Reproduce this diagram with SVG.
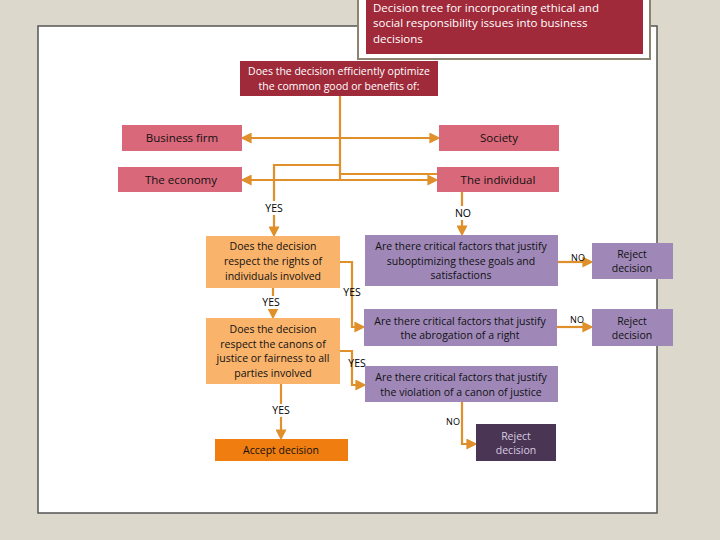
<svg xmlns="http://www.w3.org/2000/svg" width="720" height="540" viewBox="0 0 720 540">
<style>
text{font-family:"Open Sans","Liberation Sans",sans-serif;font-size:10.5px;text-anchor:middle}
.w{fill:#fff}.k{fill:#111}
.ln{fill:none;stroke:#e0902a;stroke-width:2.2}
</style>
<defs><marker id="a" markerWidth="5" markerHeight="5" refX="3" refY="2.5" orient="auto"><path d="M0,0L5,2.5L0,5z" fill="#e0902a"/></marker></defs>
<rect width="720" height="540" fill="#dcd8cc"/>
<rect x="38" y="26" width="619" height="487" fill="#fff" stroke="#555" stroke-width="1.5"/>
<g id="title"><rect x="358" y="-5" width="292" height="64" fill="#fff" stroke="#8a8470" stroke-width="2"/><rect x="366" y="-5" width="277" height="59" fill="#a02a3a"/>
<text x="373" y="12" class="w" style="text-anchor:start;font-size:11.5px">Decision tree for incorporating ethical and</text>
<text x="373" y="27" class="w" style="text-anchor:start;font-size:11.5px">social responsibility issues into business</text>
<text x="373" y="43" class="w" style="text-anchor:start;font-size:11.5px">decisions</text></g>
<g id="connectors">
<path class="ln" d="M340,96V180"/>
<path class="ln" d="M340,138H245" marker-end="url(#a)"/><path class="ln" d="M340,138H436" marker-end="url(#a)"/>
<path class="ln" d="M340,180H245" marker-end="url(#a)"/><path class="ln" d="M340,180H434" marker-end="url(#a)"/>
<path class="ln" d="M340,165H274V233" marker-end="url(#a)"/>
<path class="ln" d="M340,174H462V232" marker-end="url(#a)"/>
<path class="ln" d="M340,262H352V327H361" marker-end="url(#a)"/>
<path class="ln" d="M340,351H352V385H362" marker-end="url(#a)"/>
<path class="ln" d="M273,288V315" marker-end="url(#a)"/>
<path class="ln" d="M281,384V436" marker-end="url(#a)"/>
<path class="ln" d="M462,402V444H473" marker-end="url(#a)"/>
<path class="ln" d="M558,262H589" marker-end="url(#a)"/>
<path class="ln" d="M557,327H589" marker-end="url(#a)"/>
</g>
<g id="labels">
<rect x="262" y="201" width="24" height="14" fill="#fff"/><text x="274" y="212">YES</text>
<rect x="452" y="206" width="20" height="14" fill="#fff"/><text x="463" y="217">NO</text>
<rect x="258" y="296" width="26" height="13" fill="#fff"/><text x="271" y="306">YES</text>
<text x="352" y="296">YES</text><text x="357" y="367">YES</text>
<rect x="268" y="404" width="26" height="13" fill="#fff"/><text x="281" y="414">YES</text>
<text x="453" y="425" style="font-size:9px">NO</text>
<text x="578" y="261" style="font-size:9px">NO</text><text x="577" y="323" style="font-size:9px">NO</text>
</g>
<g id="q0"><rect x="240" y="61" width="198" height="35" fill="#9e2a3a"/><text x="339" y="75" class="w">Does the decision efficiently optimize</text><text x="339" y="90" class="w">the common good or benefits of:</text></g>
<g id="firm"><rect x="122" y="125" width="120" height="26" fill="#d9687a"/><text x="182" y="142" class="k" style="font-size:11.5px">Business firm</text></g>
<g id="society"><rect x="439" y="125" width="120" height="26" fill="#d9687a"/><text x="499" y="142" class="k" style="font-size:11.5px">Society</text></g>
<g id="economy"><rect x="118" y="167" width="124" height="25" fill="#d9687a"/><text x="181" y="184" class="k" style="font-size:11.5px">The economy</text></g>
<g id="individual"><rect x="437" y="167" width="122" height="25" fill="#d9687a"/><text x="498" y="184" class="k" style="font-size:11.5px">The individual</text></g>
<g id="rights"><rect x="206" y="236" width="134" height="52" fill="#f9b36b"/><text x="273" y="250" class="k">Does the decision</text><text x="273" y="265" class="k">respect the rights of</text><text x="273" y="280" class="k">individuals involved</text></g>
<g id="justice"><rect x="206" y="318" width="134" height="66" fill="#f9b36b"/><text x="273" y="333" class="k">Does the decision</text><text x="273" y="348" class="k">respect the canons of</text><text x="273" y="362" class="k">justice or fairness to all</text><text x="273" y="377" class="k">parties involved</text></g>
<g id="accept"><rect x="215" y="439" width="133" height="22" fill="#ef7d10"/><text x="281" y="454" class="k">Accept decision</text></g>
<g id="p1"><rect x="365" y="235" width="193" height="51" fill="#9f88b8"/><text x="461" y="250" class="k">Are there critical factors that justify</text><text x="461" y="265" class="k">suboptimizing these goals and</text><text x="461" y="279" class="k">satisfactions</text></g>
<g id="p2"><rect x="364" y="309" width="193" height="37" fill="#9f88b8"/><text x="460" y="325" class="k">Are there critical factors that justify</text><text x="460" y="339" class="k">the abrogation of a right</text></g>
<g id="p3"><rect x="365" y="366" width="193" height="36" fill="#9f88b8"/><text x="461" y="381" class="k">Are there critical factors that justify</text><text x="461" y="396" class="k">the violation of a canon of justice</text></g>
<g id="r1"><rect x="592" y="243" width="81" height="36" fill="#9f88b8"/><text x="632" y="258" class="k">Reject</text><text x="632" y="272" class="k">decision</text></g>
<g id="r2"><rect x="592" y="309" width="81" height="37" fill="#9f88b8"/><text x="632" y="325" class="k">Reject</text><text x="632" y="339" class="k">decision</text></g>
<g id="r3"><rect x="476" y="424" width="80" height="37" fill="#4a3555"/><text x="516" y="440" style="fill:#d8cce0">Reject</text><text x="516" y="454" style="fill:#d8cce0">decision</text></g>
</svg>
